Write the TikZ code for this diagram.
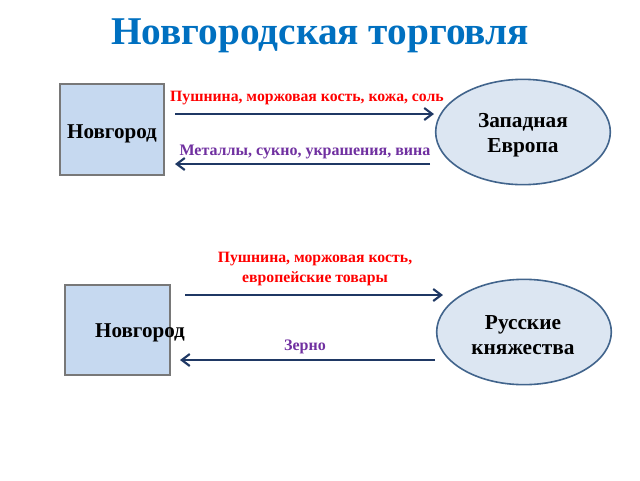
\documentclass[tikz,border=0pt]{standalone}
\usepackage{fontspec}
\setmainfont{Liberation Serif}
\usetikzlibrary{arrows.meta,shapes.geometric}
\definecolor{titleblue}{RGB}{0,112,192}
\definecolor{boxfill}{RGB}{198,217,240}
\definecolor{boxdraw}{RGB}{120,120,120}
\definecolor{ellfill}{RGB}{220,230,242}
\definecolor{elldraw}{RGB}{65,100,140}
\definecolor{navy}{RGB}{31,56,100}
\definecolor{goodsred}{RGB}{255,0,0}
\definecolor{goodspurple}{RGB}{112,48,160}
\tikzset{
  px/.style={x=0.75pt,y=-0.75pt},
  citybox/.style={draw=boxdraw,fill=boxfill,line width=0.8pt,inner sep=0pt},
  landell/.style={ellipse,draw=elldraw,fill=ellfill,line width=1.2pt,inner sep=0pt,minimum width=131pt,minimum height=79pt,align=center,font=\bfseries\fontsize{16}{19}\selectfont},
  trade/.style={draw=navy,line width=2.1pt,-{Straight Barb[length=6pt,width=9pt,line width=1.6pt]}},
  redlbl/.style={text=goodsred,font=\bfseries\fontsize{11.8}{15}\selectfont,align=center,inner sep=0pt},
  purplbl/.style={text=goodspurple,font=\bfseries\fontsize{12}{14}\selectfont,inner sep=0pt},
  cityname/.style={font=\bfseries\fontsize{15.8}{18}\selectfont,inner sep=0pt}
}
\begin{document}
\begin{tikzpicture}[px]
\useasboundingbox (0,0) rectangle (640,480);
\node[text=titleblue,font=\bfseries\fontsize{29.5}{34}\selectfont] (title) at (320,36) {Новгородская торговля};
% top
\path[citybox] (60,84) rectangle (164,175);
\node[cityname] (nov1) at (112,134) {Новгород};
\node[landell] (we) at (523,132) {};
\node[landell,draw=none,fill=none] (wet) at (523,135) {Западная\\Европа};
\coordinate (a1s) at (175,114);
\coordinate (a1e) at (434,114);
\draw[trade] (a1s) -- (a1e);
\node[redlbl] (l1) at (307,98) {Пушнина, моржовая кость, кожа, соль};
\coordinate (a2s) at (430,164);
\coordinate (a2e) at (175,164);
\draw[trade] (a2s) -- (a2e);
\node[purplbl] (l2) at (305,152) {Металлы, сукно, украшения, вина};
% bottom
\path[citybox] (65,285) rectangle (170,375);
\node[cityname] (nov2) at (140,333) {Новгород};
\node[landell] (rk) at (524,332) {};
\node[landell,draw=none,fill=none] (rkt) at (523,335) {Русские\\княжества};
\coordinate (a3s) at (185,295);
\coordinate (a3e) at (443,295);
\draw[trade] (a3s) -- (a3e);
\node[redlbl] (l3) at (315,269) {Пушнина, моржовая кость,\\европейские товары};
\coordinate (a4s) at (435,360);
\coordinate (a4e) at (180,360);
\draw[trade] (a4s) -- (a4e);
\node[purplbl] (l4) at (305,347) {Зерно};
\end{tikzpicture}
\end{document}
